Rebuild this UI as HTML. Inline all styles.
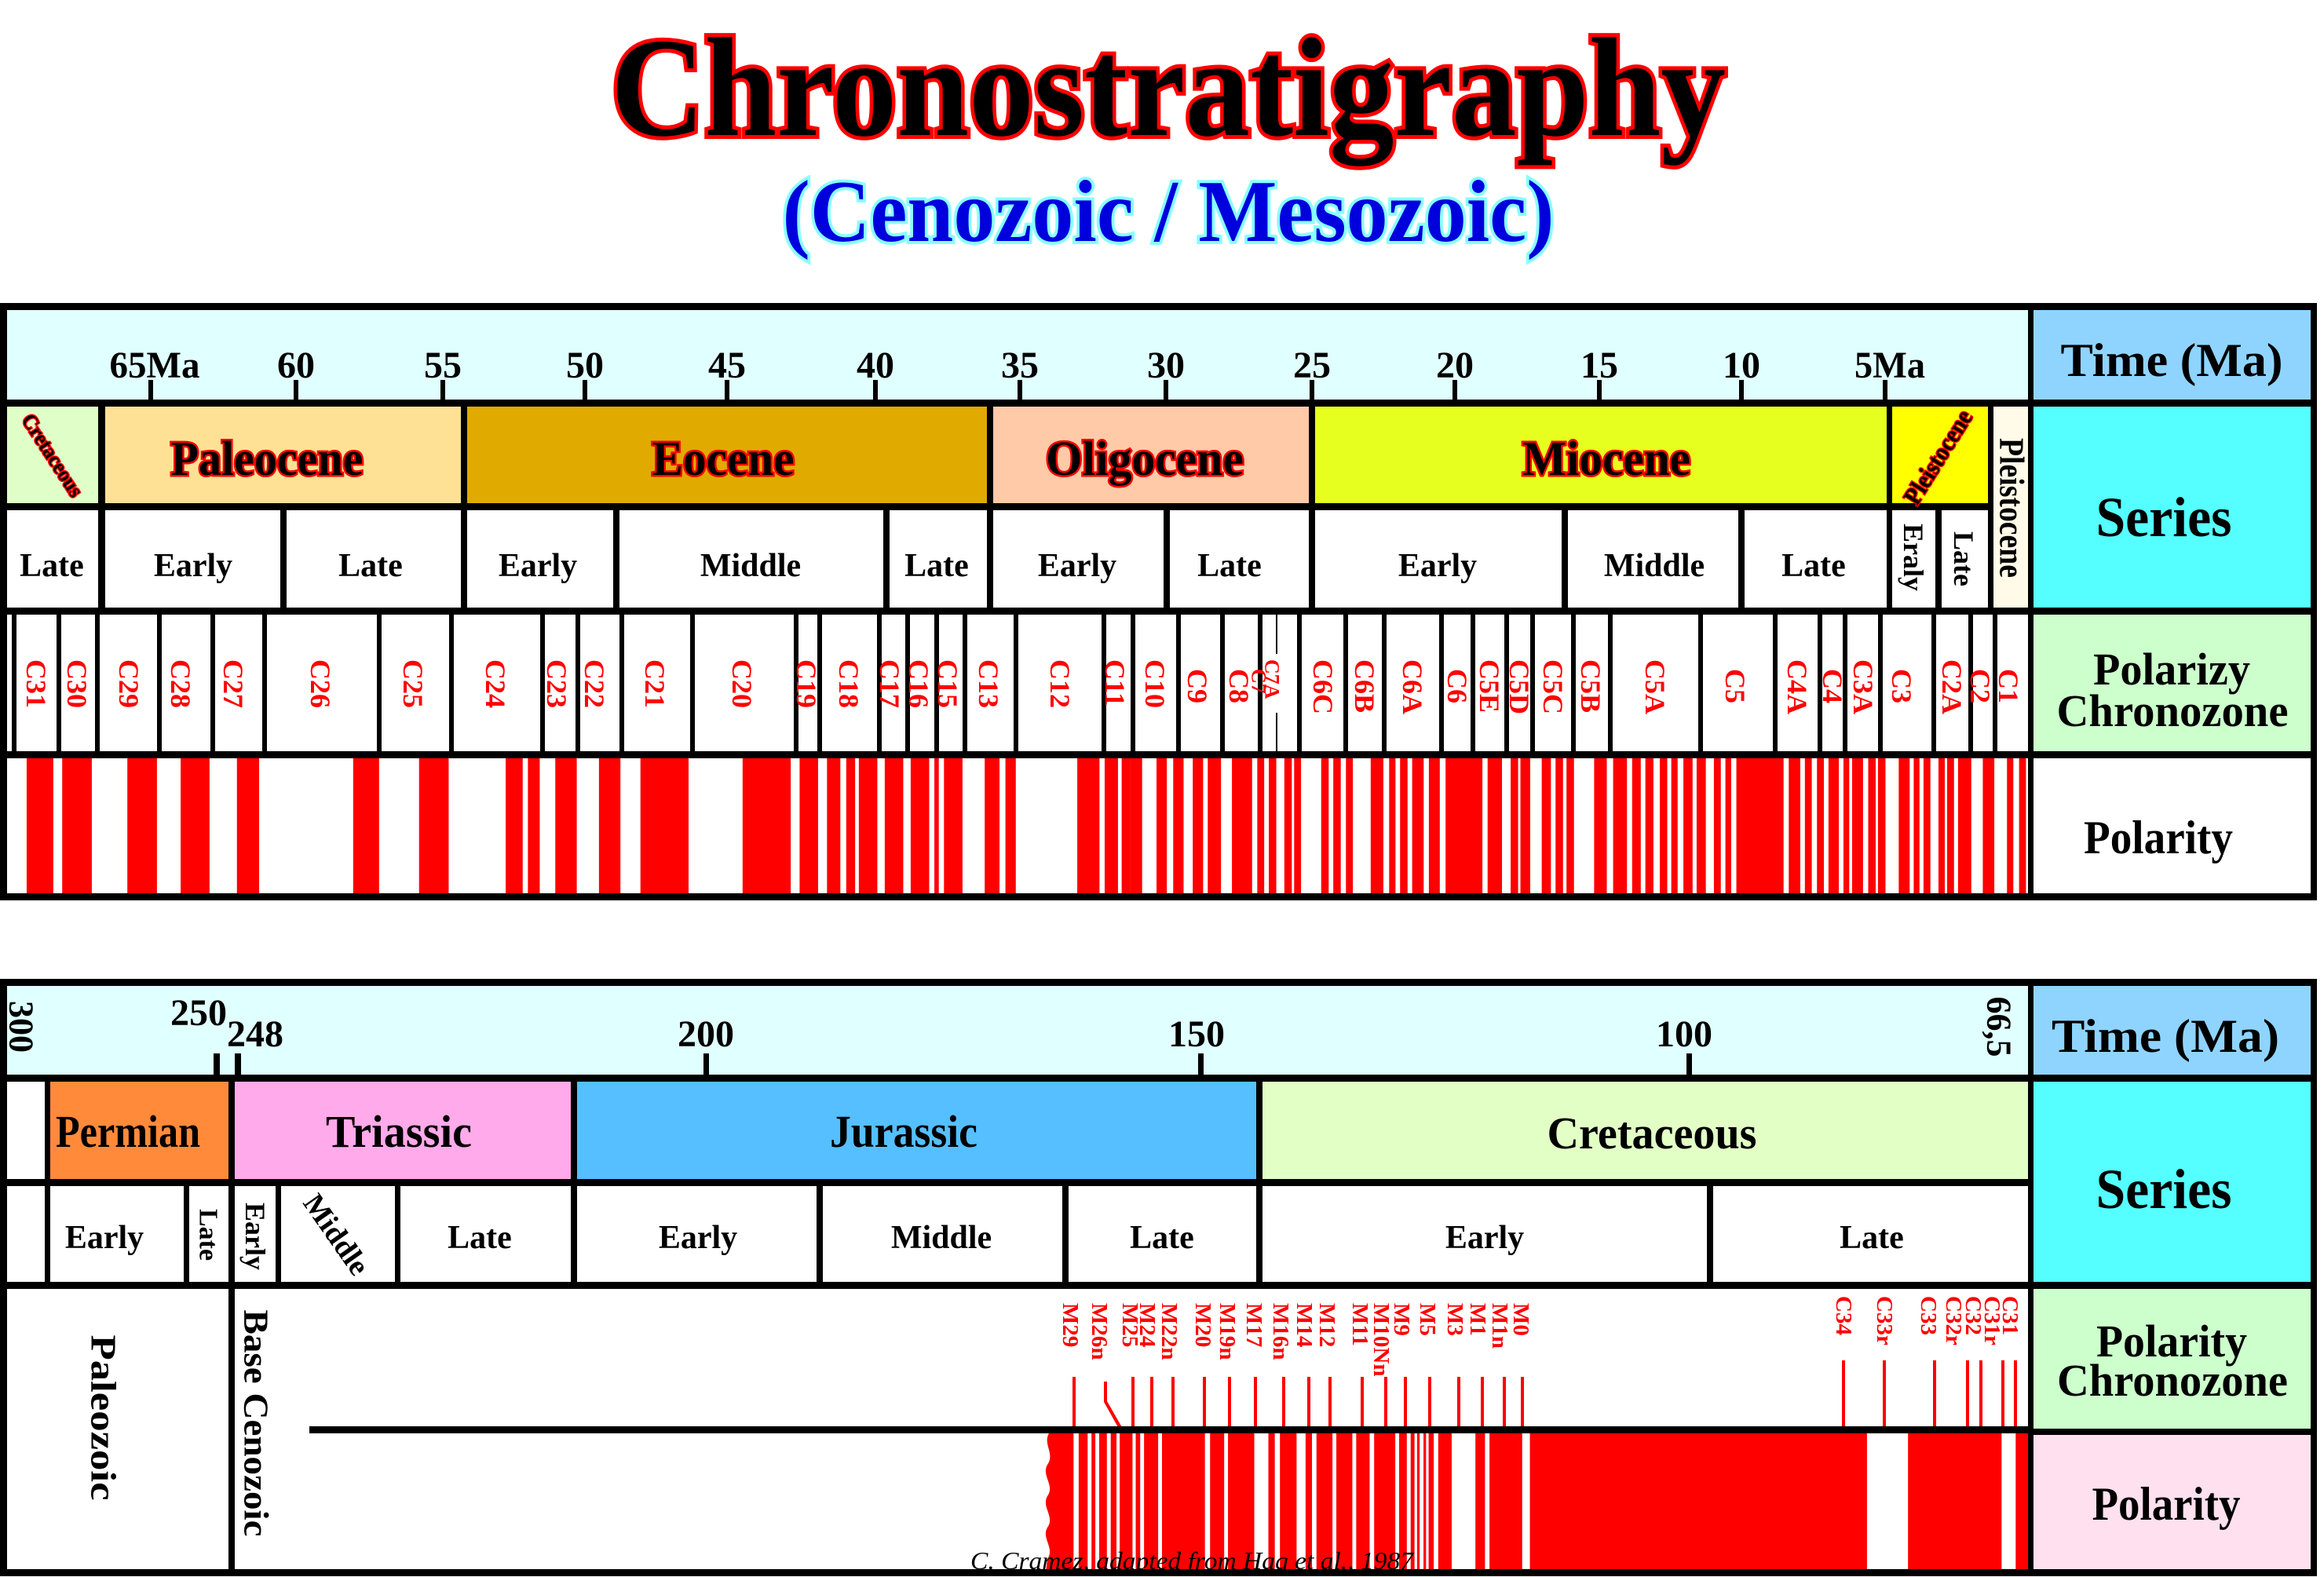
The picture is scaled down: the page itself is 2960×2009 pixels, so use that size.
<!DOCTYPE html>
<html><head><meta charset="utf-8"><style>
html,body{margin:0;padding:0;background:#fff;}
svg{display:block;}
text{font-family:"Liberation Serif",serif;font-weight:bold;}
.ser{fill:#000;stroke:#f00;stroke-width:5;paint-order:stroke;}
.cz{fill:#f00;font-size:36px;}
.mz{fill:#f00;font-size:29px;}
</style></head><body>
<svg width="2960" height="2009" viewBox="0 0 2960 2009" xmlns="http://www.w3.org/2000/svg">
<rect width="2960" height="2009" fill="#fff"/>
<!-- Title -->
<text x="1488" y="172" text-anchor="middle" font-size="180" textLength="1420" lengthAdjust="spacingAndGlyphs" fill="#000" stroke="#f00" stroke-width="10" paint-order="stroke">Chronostratigraphy</text>
<text x="1488" y="307" text-anchor="middle" font-size="112" textLength="983" lengthAdjust="spacingAndGlyphs" fill="#0000dd" stroke="#88ffff" stroke-width="8" paint-order="stroke">(Cenozoic / Mesozoic)</text>

<!-- ================= TOP PANEL ================= -->
<rect x="4" y="390" width="2583" height="123" fill="#e0ffff"/>
<rect x="4" y="513" width="126" height="132" fill="#e0ffc8"/>
<rect x="130" y="513" width="460" height="132" fill="#ffe196"/>
<rect x="590" y="513" width="671" height="132" fill="#e0aa00"/>
<rect x="1261" y="513" width="410" height="132" fill="#ffcaa8"/>
<rect x="1671" y="513" width="735" height="132" fill="#e6ff1e"/>
<rect x="2406" y="513" width="129" height="132" fill="#ffff00"/>
<rect x="2535" y="513" width="52" height="265" fill="#fffbe8"/>
<rect x="2587" y="390" width="360" height="123" fill="#8fd4ff"/>
<rect x="2587" y="513" width="360" height="265" fill="#55ffff"/>
<rect x="2587" y="778" width="360" height="183" fill="#ccffcc"/>

<!-- polarity stripes top -->
<g fill="#f00">
<g transform="translate(0,966) scale(0.943,1)">
<rect x="36" y="0" width="36" height="176"/><rect x="84" width="40" height="176"/><rect x="172" width="40" height="176"/><rect x="244" width="39" height="176"/><rect x="320" width="30" height="176"/><rect x="477" width="35" height="176"/><rect x="566" width="40" height="176"/><rect x="683" width="23" height="176"/><rect x="713" width="16" height="176"/><rect x="750" width="29" height="176"/><rect x="809" width="29" height="176"/><rect x="865" width="65" height="176"/><rect x="1003" width="65" height="176"/><rect x="1080" width="25" height="176"/><rect x="1117" width="18" height="176"/><rect x="1143" width="12" height="176"/><rect x="1160" width="25" height="176"/><rect x="1195" width="25" height="176"/><rect x="1230" width="25" height="176"/><rect x="1262" width="6" height="176"/><rect x="1275" width="25" height="176"/><rect x="1330" width="20" height="176"/><rect x="1358" width="14" height="176"/><rect x="1455" width="30" height="176"/><rect x="1492" width="18" height="176"/><rect x="1515" width="12" height="176"/>
</g>
<g transform="translate(1440,966) scale(0.7334,1)">
<rect x="0" width="20" height="176"/><rect x="45" width="18" height="176"/><rect x="74" width="18" height="176"/><rect x="108" width="18" height="176"/><rect x="134" width="23" height="176"/><rect x="176" width="35" height="176"/><rect x="220" width="12" height="176"/><rect x="240" width="13" height="176"/><rect x="267" width="13" height="176"/><rect x="284" width="12" height="176"/><rect x="331" width="13" height="176"/><rect x="352" width="13" height="176"/><rect x="374" width="12" height="176"/><rect x="417" width="22" height="176"/><rect x="449" width="11" height="176"/><rect x="468" width="13" height="176"/><rect x="489" width="20" height="176"/><rect x="518" width="19" height="176"/><rect x="547" width="64" height="176"/><rect x="620" width="25" height="176"/><rect x="660" width="13" height="176"/><rect x="677" width="17" height="176"/><rect x="714" width="16" height="176"/><rect x="738" width="13" height="176"/><rect x="757" width="13" height="176"/><rect x="805" width="22" height="176"/><rect x="838" width="24" height="176"/><rect x="871" width="15" height="176"/><rect x="894" width="14" height="176"/><rect x="919" width="13" height="176"/><rect x="939" width="11" height="176"/><rect x="960" width="16" height="176"/><rect x="983" width="16" height="176"/><rect x="1013" width="12" height="176"/><rect x="1033" width="10" height="176"/><rect x="1052" width="82" height="176"/><rect x="1143" width="20" height="176"/><rect x="1171" width="12" height="176"/><rect x="1192" width="12" height="176"/><rect x="1212" width="18" height="176"/><rect x="1238" width="10" height="176"/><rect x="1253" width="19" height="176"/><rect x="1281" width="13" height="176"/><rect x="1298" width="13" height="176"/><rect x="1334" width="19" height="176"/><rect x="1360" width="10" height="176"/><rect x="1377" width="12" height="176"/><rect x="1403" width="11" height="176"/><rect x="1418" width="12" height="176"/><rect x="1437" width="23" height="176"/><rect x="1480" width="20" height="176"/><rect x="1522" width="11" height="176"/><rect x="1543" width="12" height="176"/>
</g>
</g>

<!-- top grid lines -->
<g fill="#000">
<rect x="0" y="386" width="2951" height="9"/>
<rect x="0" y="509" width="2951" height="9"/>
<rect x="0" y="641" width="2536" height="9"/>
<rect x="0" y="774" width="2951" height="9"/>
<rect x="0" y="957" width="2951" height="9"/>
<rect x="0" y="1138" width="2951" height="9"/>
<rect x="0" y="386" width="9" height="761"/>
<rect x="2583" y="386" width="7" height="761"/>
<rect x="2943" y="386" width="8" height="761"/>
<rect x="125" y="513" width="9" height="265"/><rect x="587" y="513" width="8" height="265"/><rect x="1257" y="513" width="8" height="265"/><rect x="1667" y="513" width="8" height="265"/><rect x="2403" y="513" width="7" height="265"/><rect x="2532" y="513" width="7" height="265"/>
<rect x="357" y="645" width="8" height="133"/><rect x="781" y="645" width="8" height="133"/><rect x="1125" y="645" width="8" height="133"/><rect x="1482" y="645" width="8" height="133"/><rect x="1989" y="645" width="8" height="133"/><rect x="2214" y="645" width="8" height="133"/><rect x="2465" y="645" width="8" height="133"/>
<rect x="189" y="484" width="6" height="29"/><rect x="374" y="484" width="6" height="29"/><rect x="561" y="484" width="6" height="29"/><rect x="742" y="484" width="6" height="29"/><rect x="923" y="484" width="6" height="29"/><rect x="1112" y="484" width="6" height="29"/><rect x="1296" y="484" width="6" height="29"/><rect x="1482" y="484" width="6" height="29"/><rect x="1668" y="484" width="6" height="29"/><rect x="1850" y="484" width="6" height="29"/><rect x="2034" y="484" width="6" height="29"/><rect x="2215" y="484" width="6" height="29"/><rect x="2398" y="484" width="6" height="29"/>
<g transform="translate(0,778)">
<rect x="15" width="6" height="183"/><rect x="72" width="6" height="183"/><rect x="121" width="6" height="183"/><rect x="200" width="6" height="183"/><rect x="268" width="6" height="183"/><rect x="334" width="6" height="183"/><rect x="480" width="6" height="183"/><rect x="572" width="6" height="183"/><rect x="688" width="6" height="183"/><rect x="733" width="6" height="183"/><rect x="789" width="6" height="183"/><rect x="879" width="6" height="183"/><rect x="1011" width="6" height="183"/><rect x="1041" width="6" height="183"/><rect x="1117" width="6" height="183"/><rect x="1153" width="6" height="183"/><rect x="1190" width="6" height="183"/><rect x="1226" width="6" height="183"/><rect x="1291" width="6" height="183"/><rect x="1403" width="6" height="183"/><rect x="1440" width="6" height="183"/><rect x="1498" width="6" height="183"/><rect x="1554" width="6" height="183"/><rect x="1602" width="6" height="183"/><rect x="1625" width="2" height="55"/><rect x="1625" y="130" width="2" height="53"/><rect x="1652" width="6" height="183"/><rect x="1711" width="6" height="183"/><rect x="1760" width="6" height="183"/><rect x="1833" width="6" height="183"/><rect x="1873" width="6" height="183"/><rect x="1916" width="6" height="183"/><rect x="1949" width="6" height="183"/><rect x="2001" width="6" height="183"/><rect x="2048" width="6" height="183"/><rect x="2163" width="6" height="183"/><rect x="2258" width="6" height="183"/><rect x="2315" width="6" height="183"/><rect x="2347" width="6" height="183"/><rect x="2392" width="6" height="183"/><rect x="2460" width="6" height="183"/><rect x="2507" width="6" height="183"/><rect x="2538" width="6" height="183"/>
</g>
</g>

<!-- top tick labels -->
<g font-size="48" text-anchor="middle" fill="#000">
<text x="197" y="481" textLength="115" lengthAdjust="spacingAndGlyphs">65Ma</text>
<text x="377" y="481">60</text><text x="564" y="481">55</text><text x="745" y="481">50</text><text x="926" y="481">45</text><text x="1115" y="481">40</text><text x="1299" y="481">35</text><text x="1485" y="481">30</text><text x="1671" y="481">25</text><text x="1853" y="481">20</text><text x="2037" y="481">15</text><text x="2218" y="481">10</text>
<text x="2407" y="481" textLength="90" lengthAdjust="spacingAndGlyphs">5Ma</text>
</g>

<g font-size="62" text-anchor="middle" class="ser">
<text x="340" y="605" textLength="245" lengthAdjust="spacingAndGlyphs">Paleocene</text>
<text x="921" y="605" textLength="181" lengthAdjust="spacingAndGlyphs">Eocene</text>
<text x="1458" y="605" textLength="252" lengthAdjust="spacingAndGlyphs">Oligocene</text>
<text x="2046" y="605" textLength="214" lengthAdjust="spacingAndGlyphs">Miocene</text>
</g>
<text class="ser" font-size="27" text-anchor="middle" dominant-baseline="central" transform="translate(67,580) rotate(57)" style="stroke-width:3" textLength="120" lengthAdjust="spacingAndGlyphs">Cretaceous</text>
<text class="ser" font-size="32" text-anchor="middle" dominant-baseline="central" transform="translate(2468,582) rotate(-58)" style="stroke-width:3" textLength="135" lengthAdjust="spacingAndGlyphs">Pleistocene</text>
<text font-size="44" text-anchor="middle" dominant-baseline="central" transform="translate(2562,647) rotate(90)" textLength="178" lengthAdjust="spacingAndGlyphs">Pleistocene</text>

<g font-size="42" text-anchor="middle" fill="#000">
<text x="66" y="734">Late</text><text x="246" y="734">Early</text><text x="472" y="734">Late</text>
<text x="685" y="734">Early</text><text x="956" y="734">Middle</text><text x="1193" y="734">Late</text>
<text x="1372" y="734">Early</text><text x="1566" y="734">Late</text>
<text x="1831" y="734">Early</text><text x="2107" y="734">Middle</text><text x="2310" y="734">Late</text>
</g>
<text font-size="36" text-anchor="middle" dominant-baseline="central" transform="translate(2437,710) rotate(90)">Eraly</text>
<text font-size="36" text-anchor="middle" dominant-baseline="central" transform="translate(2501,712) rotate(90)">Late</text>

<g class="cz" dominant-baseline="central">
<text transform="translate(46,840) rotate(90)">C31</text>
<text transform="translate(98,840) rotate(90)">C30</text>
<text transform="translate(164,840) rotate(90)">C29</text>
<text transform="translate(230,840) rotate(90)">C28</text>
<text transform="translate(297,840) rotate(90)">C27</text>
<text transform="translate(408,840) rotate(90)">C26</text>
<text transform="translate(526,840) rotate(90)">C25</text>
<text transform="translate(631,840) rotate(90)">C24</text>
<text transform="translate(709,840) rotate(90)">C23</text>
<text transform="translate(757,840) rotate(90)">C22</text>
<text transform="translate(834,840) rotate(90)">C21</text>
<text transform="translate(945,840) rotate(90)">C20</text>
<text transform="translate(1027,840) rotate(90)">C19</text>
<text transform="translate(1081,840) rotate(90)">C18</text>
<text transform="translate(1133,840) rotate(90)">C17</text>
<text transform="translate(1170,840) rotate(90)">C16</text>
<text transform="translate(1207,840) rotate(90)">C15</text>
<text transform="translate(1259,840) rotate(90)">C13</text>
<text transform="translate(1350,840) rotate(90)">C12</text>
<text transform="translate(1420,840) rotate(90)">C11</text>
<text transform="translate(1471,840) rotate(90)">C10</text>
<text transform="translate(1525,852) rotate(90)">C9</text>
<text transform="translate(1578,852) rotate(90)">C8</text>
<text transform="translate(1603,852) rotate(90)" font-size="26">C7</text>
<text transform="translate(1620,840) rotate(90)" font-size="26">C7A</text>
<text transform="translate(1685,840) rotate(90)">C6C</text>
<text transform="translate(1738,840) rotate(90)">C6B</text>
<text transform="translate(1799,840) rotate(90)">C6A</text>
<text transform="translate(1856,852) rotate(90)">C6</text>
<text transform="translate(1897,840) rotate(90)">C5E</text>
<text transform="translate(1935,840) rotate(90)">C5D</text>
<text transform="translate(1978,840) rotate(90)">C5C</text>
<text transform="translate(2026,840) rotate(90)">C5B</text>
<text transform="translate(2108,840) rotate(90)">C5A</text>
<text transform="translate(2210,852) rotate(90)">C5</text>
<text transform="translate(2289,840) rotate(90)">C4A</text>
<text transform="translate(2334,852) rotate(90)">C4</text>
<text transform="translate(2373,840) rotate(90)">C3A</text>
<text transform="translate(2422,852) rotate(90)">C3</text>
<text transform="translate(2486,840) rotate(90)">C2A</text>
<text transform="translate(2522,852) rotate(90)">C2</text>
<text transform="translate(2558,852) rotate(90)">C1</text>
</g>

<g text-anchor="middle" fill="#000">
<text x="2766" y="479" font-size="60" textLength="283" lengthAdjust="spacingAndGlyphs">Time (Ma)</text>
<text x="2756" y="683" font-size="72" textLength="173" lengthAdjust="spacingAndGlyphs">Series</text>
<text x="2766" y="872" font-size="58" textLength="200" lengthAdjust="spacingAndGlyphs">Polarizy</text>
<text x="2767" y="925" font-size="58" textLength="295" lengthAdjust="spacingAndGlyphs">Chronozone</text>
<text x="2749" y="1087" font-size="60" textLength="190" lengthAdjust="spacingAndGlyphs">Polarity</text>
</g>

<!-- ================= BOTTOM PANEL ================= -->
<rect x="4" y="1251" width="2583" height="123" fill="#e0ffff"/>
<rect x="62" y="1374" width="233" height="132" fill="#ff8a3a"/>
<rect x="295" y="1374" width="436" height="132" fill="#ffaaea"/>
<rect x="731" y="1374" width="873" height="132" fill="#55bfff"/>
<rect x="1604" y="1374" width="983" height="132" fill="#e2ffc6"/>
<rect x="2587" y="1251" width="360" height="123" fill="#8fd4ff"/>
<rect x="2587" y="1374" width="360" height="263" fill="#55ffff"/>
<rect x="2587" y="1637" width="360" height="184" fill="#ccffcc"/>
<rect x="2587" y="1821" width="360" height="182" fill="#ffe0ee"/>

<g fill="#f00">
<path d="M1336,1826 C1328,1840 1344,1852 1334,1866 C1326,1880 1344,1892 1334,1906 C1326,1920 1344,1932 1334,1946 C1326,1960 1344,1972 1334,1986 L1332,2003 L2584,2003 L2584,1826 Z"/>
</g>
<g fill="#fff" transform="translate(1320,1826) scale(0.8163,1)">
<rect x="58" width="8" height="180"/><rect x="80" width="6" height="180"/><rect x="92" width="6" height="180"/><rect x="110" width="6" height="180"/><rect x="125" width="5" height="180"/><rect x="150" width="5" height="180"/><rect x="162" width="6" height="180"/><rect x="190" width="6" height="180"/><rect x="263" width="8" height="180"/><rect x="293" width="6" height="180"/><rect x="340" width="22" height="180"/><rect x="372" width="8" height="180"/><rect x="406" width="14" height="180"/><rect x="430" width="7" height="180"/><rect x="462" width="6" height="180"/><rect x="493" width="6" height="180"/><rect x="520" width="7" height="180"/><rect x="560" width="6" height="180"/><rect x="578" width="6" height="180"/><rect x="590" width="4" height="180"/><rect x="598" width="6" height="180"/><rect x="608" width="4" height="180"/><rect x="620" width="7" height="180"/><rect x="648" width="37" height="180"/><rect x="700" width="7" height="180"/><rect x="758" width="12" height="180"/><rect x="1296" width="64" height="180"/><rect x="1506" width="22" height="180"/>
</g>

<g fill="#f00">
<rect x="1366" y="1754" width="4" height="67"/>
<polygon points="1406,1760 1410,1760 1410,1785 1430,1820 1425,1820 1406,1786"/>
<rect x="1441" y="1754" width="4" height="67"/><rect x="1465" y="1754" width="4" height="67"/><rect x="1492" y="1754" width="4" height="67"/><rect x="1532" y="1754" width="4" height="67"/><rect x="1564" y="1754" width="4" height="67"/><rect x="1597" y="1754" width="4" height="67"/><rect x="1633" y="1754" width="4" height="67"/><rect x="1665" y="1754" width="4" height="67"/><rect x="1692" y="1754" width="4" height="67"/><rect x="1733" y="1754" width="4" height="67"/><rect x="1763" y="1754" width="4" height="67"/><rect x="1788" y="1754" width="4" height="67"/><rect x="1819" y="1754" width="4" height="67"/><rect x="1856" y="1754" width="4" height="67"/><rect x="1886" y="1754" width="4" height="67"/><rect x="1914" y="1754" width="4" height="67"/><rect x="1937" y="1754" width="4" height="67"/>
<rect x="2346" y="1733" width="4" height="90"/><rect x="2398" y="1733" width="4" height="90"/><rect x="2462" y="1733" width="4" height="90"/><rect x="2504" y="1733" width="4" height="90"/><rect x="2521" y="1733" width="4" height="90"/><rect x="2549" y="1733" width="4" height="90"/><rect x="2565" y="1733" width="4" height="90"/>
</g>
<g class="mz" dominant-baseline="central">
<text transform="translate(1363,1660) rotate(90)">M29</text>
<text transform="translate(1400,1660) rotate(90)">M26n</text>
<text transform="translate(1439,1660) rotate(90)">M25</text>
<text transform="translate(1461,1660) rotate(90)">M24</text>
<text transform="translate(1489,1660) rotate(90)">M22n</text>
<text transform="translate(1532,1660) rotate(90)">M20</text>
<text transform="translate(1563,1660) rotate(90)">M19n</text>
<text transform="translate(1597,1660) rotate(90)">M17</text>
<text transform="translate(1631,1660) rotate(90)">M16n</text>
<text transform="translate(1661,1660) rotate(90)">M14</text>
<text transform="translate(1690,1660) rotate(90)">M12</text>
<text transform="translate(1732,1660) rotate(90)">M11</text>
<text transform="translate(1759,1660) rotate(90)">M10Nn</text>
<text transform="translate(1785,1660) rotate(90)">M9</text>
<text transform="translate(1818,1660) rotate(90)">M5</text>
<text transform="translate(1853,1660) rotate(90)">M3</text>
<text transform="translate(1882,1660) rotate(90)">M1</text>
<text transform="translate(1910,1660) rotate(90)">M1n</text>
<text transform="translate(1937,1660) rotate(90)">M0</text>
<text transform="translate(2348,1651) rotate(90)">C34</text>
<text transform="translate(2400,1651) rotate(90)">C33r</text>
<text transform="translate(2456,1651) rotate(90)">C33</text>
<text transform="translate(2488,1651) rotate(90)">C32r</text>
<text transform="translate(2513,1651) rotate(90)">C32</text>
<text transform="translate(2537,1651) rotate(90)">C31r</text>
<text transform="translate(2560,1651) rotate(90)">C31</text>
</g>

<g fill="#000">
<rect x="0" y="1247" width="2951" height="9"/>
<rect x="0" y="1369" width="2951" height="9"/>
<rect x="0" y="1502" width="2587" height="9"/>
<rect x="0" y="1633" width="2951" height="9"/>
<rect x="394" y="1817" width="2193" height="9"/>
<rect x="2587" y="1820" width="364" height="8"/>
<rect x="0" y="1999" width="2951" height="9"/>
<rect x="0" y="1247" width="9" height="761"/>
<rect x="2583" y="1247" width="7" height="761"/>
<rect x="2943" y="1247" width="8" height="761"/>
<rect x="57" y="1374" width="7" height="263"/><rect x="291" y="1374" width="8" height="634"/><rect x="727" y="1374" width="8" height="263"/><rect x="1600" y="1374" width="8" height="263"/>
<rect x="234" y="1506" width="7" height="131"/><rect x="351" y="1506" width="7" height="131"/><rect x="503" y="1506" width="7" height="131"/><rect x="1040" y="1506" width="8" height="131"/><rect x="1353" y="1506" width="8" height="131"/><rect x="2174" y="1506" width="8" height="131"/>
<rect x="272" y="1342" width="8" height="30"/><rect x="299" y="1342" width="8" height="30"/><rect x="896" y="1342" width="7" height="30"/><rect x="1526" y="1342" width="7" height="30"/><rect x="2148" y="1342" width="7" height="30"/>
</g>

<g font-size="48" text-anchor="middle" fill="#000">
<text x="253" y="1306">250</text><text x="325" y="1333">248</text><text x="899" y="1333">200</text><text x="1524" y="1333">150</text><text x="2145" y="1333">100</text>
</g>
<text font-size="44" text-anchor="middle" dominant-baseline="central" transform="translate(27,1308) rotate(90)">300</text>
<text font-size="44" text-anchor="middle" dominant-baseline="central" transform="translate(2546,1308) rotate(90)">66,5</text>

<g font-size="58" text-anchor="middle" fill="#000">
<text x="163" y="1461" textLength="184" lengthAdjust="spacingAndGlyphs">Permian</text>
<text x="508" y="1461" textLength="186" lengthAdjust="spacingAndGlyphs">Triassic</text>
<text x="1151" y="1461" textLength="188" lengthAdjust="spacingAndGlyphs">Jurassic</text>
<text x="2104" y="1463" textLength="267" lengthAdjust="spacingAndGlyphs">Cretaceous</text>
</g>
<g font-size="42" text-anchor="middle" fill="#000">
<text x="133" y="1590">Early</text><text x="611" y="1590">Late</text><text x="889" y="1590">Early</text><text x="1199" y="1590">Middle</text><text x="1480" y="1590">Late</text><text x="1891" y="1590">Early</text><text x="2384" y="1590">Late</text>
</g>
<text font-size="34" text-anchor="middle" dominant-baseline="central" transform="translate(265,1573) rotate(90)">Late</text>
<text font-size="36" text-anchor="middle" dominant-baseline="central" transform="translate(325,1575) rotate(90)">Early</text>
<text font-size="38" text-anchor="middle" dominant-baseline="central" transform="translate(428,1573) rotate(55)">Middle</text>
<text font-size="46" text-anchor="middle" dominant-baseline="central" transform="translate(132,1806) rotate(90)" textLength="211" lengthAdjust="spacingAndGlyphs">Paleozoic</text>
<text font-size="44" text-anchor="middle" dominant-baseline="central" transform="translate(326,1813) rotate(90)" textLength="289" lengthAdjust="spacingAndGlyphs">Base Cenozoic</text>

<g text-anchor="middle" fill="#000">
<text x="2758" y="1340" font-size="60" textLength="290" lengthAdjust="spacingAndGlyphs">Time (Ma)</text>
<text x="2756" y="1539" font-size="72" textLength="173" lengthAdjust="spacingAndGlyphs">Series</text>
<text x="2766" y="1728" font-size="58" textLength="192" lengthAdjust="spacingAndGlyphs">Polarity</text>
<text x="2767" y="1778" font-size="58" textLength="294" lengthAdjust="spacingAndGlyphs">Chronozone</text>
<text x="2759" y="1936" font-size="60" textLength="189" lengthAdjust="spacingAndGlyphs">Polarity</text>
</g>
<text x="1236" y="1999" font-size="32" font-style="italic" style="font-weight:normal" textLength="564" lengthAdjust="spacingAndGlyphs" fill="#000">C. Cramez, adapted from  Haq et al., 1987</text>
</svg>
</body></html>
